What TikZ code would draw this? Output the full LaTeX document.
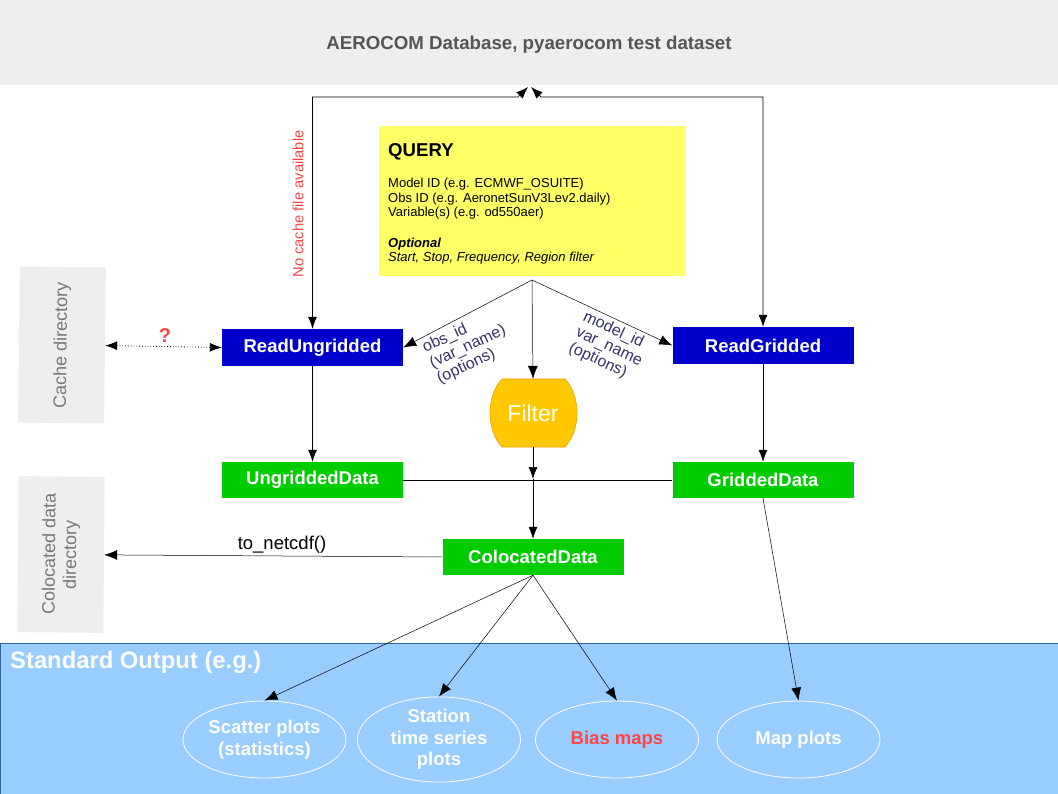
\documentclass[tikz,border=0pt]{standalone}
\usepackage{fontspec}
\setmainfont{Liberation Sans}
\usetikzlibrary{arrows.meta,shapes.geometric,calc}
\definecolor{dbgray}{HTML}{EEEEEE}
\definecolor{dbtext}{HTML}{555555}
\definecolor{qyellow}{HTML}{FFFF66}
\definecolor{rblue}{HTML}{0000CC}
\definecolor{dgreen}{HTML}{00CC00}
\definecolor{fillorange}{HTML}{FFC800}
\definecolor{edgeorange}{HTML}{F0A000}
\definecolor{outblue}{HTML}{99CCFF}
\definecolor{outedge}{HTML}{3465A4}
\definecolor{labnavy}{HTML}{333366}
\definecolor{nored}{HTML}{FF4444}
\definecolor{dirtext}{HTML}{777777}
\tikzset{
  readbox/.style={fill=rblue, text=white, minimum width=181pt, minimum height=37pt, inner sep=0pt, font=\fontsize{18.5}{20}\selectfont\bfseries},
  databox/.style={fill=dgreen, text=white, minimum width=181pt, minimum height=36pt, inner sep=0pt, font=\fontsize{18.5}{20}\selectfont\bfseries},
  dirbox/.style={fill=dbgray, text=dirtext, minimum width=156pt, minimum height=86pt, inner sep=0pt, align=center, font=\fontsize{18}{21}\selectfont},
  outell/.style={ellipse, draw=white, line width=0.8pt, minimum width=163pt, minimum height=77pt, inner sep=0pt, text=white, align=center, font=\fontsize{18.5}{21.5}\selectfont\bfseries},
  arr/.style={-{Latex[length=12pt,width=9pt]}, line width=0.7pt},
  thinarr/.style={-{Latex[length=13pt,width=10pt]}, line width=0.5pt},
  rotlab/.style={text=labnavy, align=left, inner sep=0pt, font=\fontsize{16}{17}\selectfont},
}
\begin{document}
\begin{tikzpicture}[x=1pt,y=-1pt]
\useasboundingbox (0,0) rectangle (1058,794);
% database band
\fill[dbgray] (0,0) rectangle (1058,85);
\node[text=dbtext, font=\fontsize{18.7}{22}\selectfont\bfseries] (db) at (529,45) {AEROCOM Database, pyaerocom test dataset};
% standard output area
\draw[fill=outblue, draw=outedge, line width=0.8pt] (0,643) rectangle (1058,794);
\node[anchor=north west, text=white, inner sep=0pt, font=\fontsize{23.8}{27}\selectfont\bfseries] (stdout) at (10,651) {Standard Output (e.g.)};
% query box
\node[fill=qyellow, minimum width=306pt, minimum height=150pt, inner sep=0pt] (query) at (532,201) {};
\node[anchor=base west, inner sep=0pt, font=\fontsize{18.6}{20}\selectfont\bfseries] (qtitle) at (388,157) {QUERY};
\node[anchor=base west, align=left, inner sep=0pt, font=\fontsize{13}{14.8}\selectfont] (qtext) at (388,262) {%
Model ID (e.g. ECMWF\_OSUITE)\\
Obs ID (e.g. AeronetSunV3Lev2.daily)\\
Variable(s) (e.g. od550aer)\\[15.4pt]
{\bfseries\itshape Optional}\\
{\itshape Start, Stop, Frequency, Region filter}};
\coordinate (qs) at (532,280);
% read boxes
\node[readbox] (readU) at (312.5,347.5) {ReadUngridded};
\node[readbox] (readG) at (763,345.5) {ReadGridded};
% data boxes
\node[databox] (ungr) at (312.5,480) {UngriddedData};
\node[databox] (gridd) at (763,480) {GriddedData};
\node[databox] (coloc) at (533,557) {ColocatedData};
% filter
\node[minimum width=86pt, minimum height=68pt, inner sep=0pt] (filter) at (533,413) {};
\draw[fill=fillorange, draw=edgeorange, line width=0.6pt]
  (502,379) -- (565,379) .. controls (581,396) and (581,430) .. (565,447)
  -- (502,447) .. controls (486,430) and (486,396) .. (502,379) -- cycle;
\node[text=white, font=\fontsize{23}{26}\selectfont] at (filter.center) {Filter};
\coordinate (junc) at (533,479);
% directories
\node[dirbox, rotate=89.3] (cache) at (62,345) {Cache directory};
\node[dirbox, rotate=89.5] (colocdir) at (61,554.5) {Colocated data\\directory};
% top arrows from the database
\coordinate (dbL) at (528,87);
\coordinate (dbR) at (531,87);
\draw[{Latex[length=12pt,width=9pt]}-{Latex[length=12pt,width=9pt]}, line width=0.7pt] (dbL) -- (518,97) -| (readU.north);
\draw[{Latex[length=12pt,width=9pt]}-{Latex[length=12pt,width=9pt]}, line width=0.7pt] (dbR) -- (541,97) -| (readG.north);
\node[rotate=90, text=nored, inner sep=0pt, font=\fontsize{14.7}{16}\selectfont] (nocache) at (298,204) {No cache file available};
% query arrows
\draw[thinarr] (qs) -- (readU.east);
\draw[thinarr] (qs) -- (filter.north);
\draw[thinarr] (qs) -- (readG.west);
\node[rotlab, rotate=25] (obslab) at (468,347) {obs\_id\\(var\_name)\\(options)};
\node[rotlab, rotate=-25] (modlab) at (609,347) {model\_id\\var\_name\\(options)};
% cache dotted
\draw[{Latex[length=12pt,width=9pt]}-{Latex[length=12pt,width=9pt]}, dotted, line width=0.8pt] (cache.south) -- (readU.west);
\node[text=nored, font=\fontsize{20}{22}\selectfont\bfseries] (qmark) at (165,336) {?};
% vertical arrows
\draw[arr] (readU.south) -- (ungr.north);
\draw[arr] (readG.south) -- (gridd.north);
\draw[line width=0.7pt] (ungr.east) -- (gridd.west);
\draw[arr] (filter.south) -- (junc);
\draw[arr] (junc) -- (coloc.north);
% to netcdf
\draw[thinarr] (coloc.west) -- (colocdir.south);
\node[font=\fontsize{18.5}{20}\selectfont] (netcdf) at (282,545) {to\_netcdf()};
% outputs
\node[outell] (scatter) at (264.5,739.5) {Scatter plots\\(statistics)};
\node[outell] (station) at (439,739.5) {Station\\time series\\plots};
\node[outell, text=nored] (bias) at (617,739.5) {Bias maps};
\node[outell] (mapp) at (798.5,739.5) {Map plots};
\draw[thinarr] (coloc.south) -- (scatter.north);
\draw[thinarr] (coloc.south) -- (station.north);
\draw[thinarr] (coloc.south) -- (bias.north);
\draw[thinarr] (gridd.south) -- (mapp.north);
\end{tikzpicture}
\end{document}
